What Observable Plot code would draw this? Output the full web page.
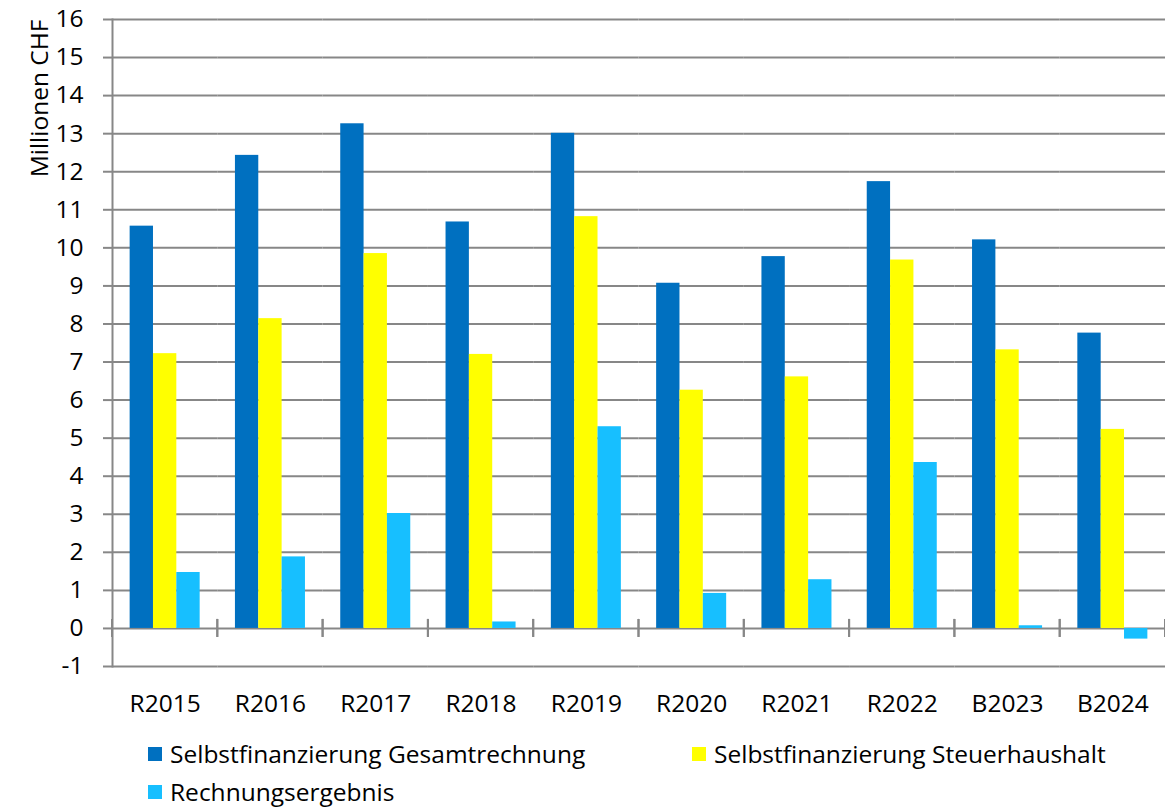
<!DOCTYPE html>
<html>
<head>
<meta charset="utf-8">
<script src="https://cdn.jsdelivr.net/npm/d3@7"></script>
<script src="https://cdn.jsdelivr.net/npm/@observablehq/plot@0.6"></script>
<style>
  html, body { margin: 0; padding: 0; background: #fff; }
  body { width: 1165px; height: 809px; overflow: hidden; font-family: "Open Sans", sans-serif; color: #000; }
  #legend { display: grid; grid-template-columns: 544px auto; padding-left: 148px; padding-top: 10px; font-size: 24.5px; line-height: 38px; }
  #legend .item { display: flex; align-items: center; white-space: nowrap; }
  #legend .sw { width: 14px; height: 14px; margin-right: 8px; display: inline-block; }
</style>
</head>
<body>
<div id="chart"></div>
<div id="legend"></div>
<script>
const years = ["R2015", "R2016", "R2017", "R2018", "R2019", "R2020", "R2021", "R2022", "B2023", "B2024"];
const seriesNames = ["Selbstfinanzierung Gesamtrechnung", "Selbstfinanzierung Steuerhaushalt", "Rechnungsergebnis"];
const gesamtrechnung = [10.57, 12.43, 13.26, 10.68, 13.01, 9.07, 9.77, 11.74, 10.21, 7.76];
const steuerhaushalt = [7.22, 8.14, 9.85, 7.20, 10.82, 6.26, 6.61, 9.68, 7.32, 5.23];
const rechnungsergebnis = [1.47, 1.88, 3.02, 0.17, 5.30, 0.92, 1.28, 4.36, 0.07, -0.28];
const yTicks = [-1, 0, 1, 2, 3, 4, 5, 6, 7, 8, 9, 10, 11, 12, 13, 14, 15, 16];
const colors = ["#0070C0", "#FFFF00", "#17BFFF"];
const yLabel = "Millionen CHF";

const seriesValues = [gesamtrechnung, steuerhaushalt, rechnungsergebnis];
const data = [];
years.forEach((year, i) => {
  seriesNames.forEach((s, j) => data.push({year, series: s, value: seriesValues[j][i]}));
});

const gridColor = "#878787";
const fontSize = 24.5;

// category separator ticks crossing the zero line, at each facet's edges
const separatorTicks = (index, scales, values, dimensions) => {
  const g = d3.create("svg:g");
  const y0 = scales.y(0);
  const left = dimensions.marginLeft;
  const right = dimensions.width - dimensions.marginRight;
  for (const x of [left, right]) {
    g.append("line")
      .attr("x1", x).attr("x2", x)
      .attr("y1", y0 - 9).attr("y2", y0 + 9)
      .attr("stroke", gridColor).attr("stroke-width", 2);
  }
  return g.node();
};

const chart = Plot.plot({
  width: 1165,
  height: 725,
  marginLeft: 112,
  marginRight: 0,
  marginTop: 19,
  marginBottom: 59,
  style: {fontFamily: "Open Sans", fontSize: fontSize + "px", color: "#000", background: "#fff"},
  fx: {domain: years, padding: 0, round: false, label: null},
  x: {domain: seriesNames, paddingInner: 0, paddingOuter: 0.7556, round: false, axis: null},
  y: {domain: [-1, 16], label: null},
  color: {domain: seriesNames, range: colors},
  marks: [
    Plot.ruleY(yTicks, {y: d => d, stroke: gridColor, strokeWidth: 2, strokeOpacity: 1}),
    Plot.frame({anchor: "left", stroke: gridColor, strokeWidth: 2, strokeOpacity: 1, facet: "super"}),
    Plot.barY(data, {fx: "year", x: "series", y: "value", fill: "series"}),
    separatorTicks,
    Plot.axisY({ticks: yTicks, tickFormat: d => String(d), tickSize: 9, tickPadding: 20, stroke: gridColor, strokeWidth: 2, strokeOpacity: 1, label: null, fontSize, fill: "#000"}),
    Plot.axisFx({anchor: "bottom", tickSize: 0, tickPadding: 28, label: null, fontSize, fill: "#000"}),
    Plot.text([yLabel], {text: d => d, frameAnchor: "top-left", rotate: -90, textAnchor: "end", dx: -82, dy: 0, fontSize, fill: "#000", facet: "super"})
  ]
});
document.getElementById("chart").appendChild(chart);

const legend = d3.select("#legend");
seriesNames.forEach((s, i) => {
  const item = legend.append("div").attr("class", "item");
  item.append("span").attr("class", "sw").style("background", colors[i]);
  item.append("span").text(s);
});
</script>
</body>
</html>
